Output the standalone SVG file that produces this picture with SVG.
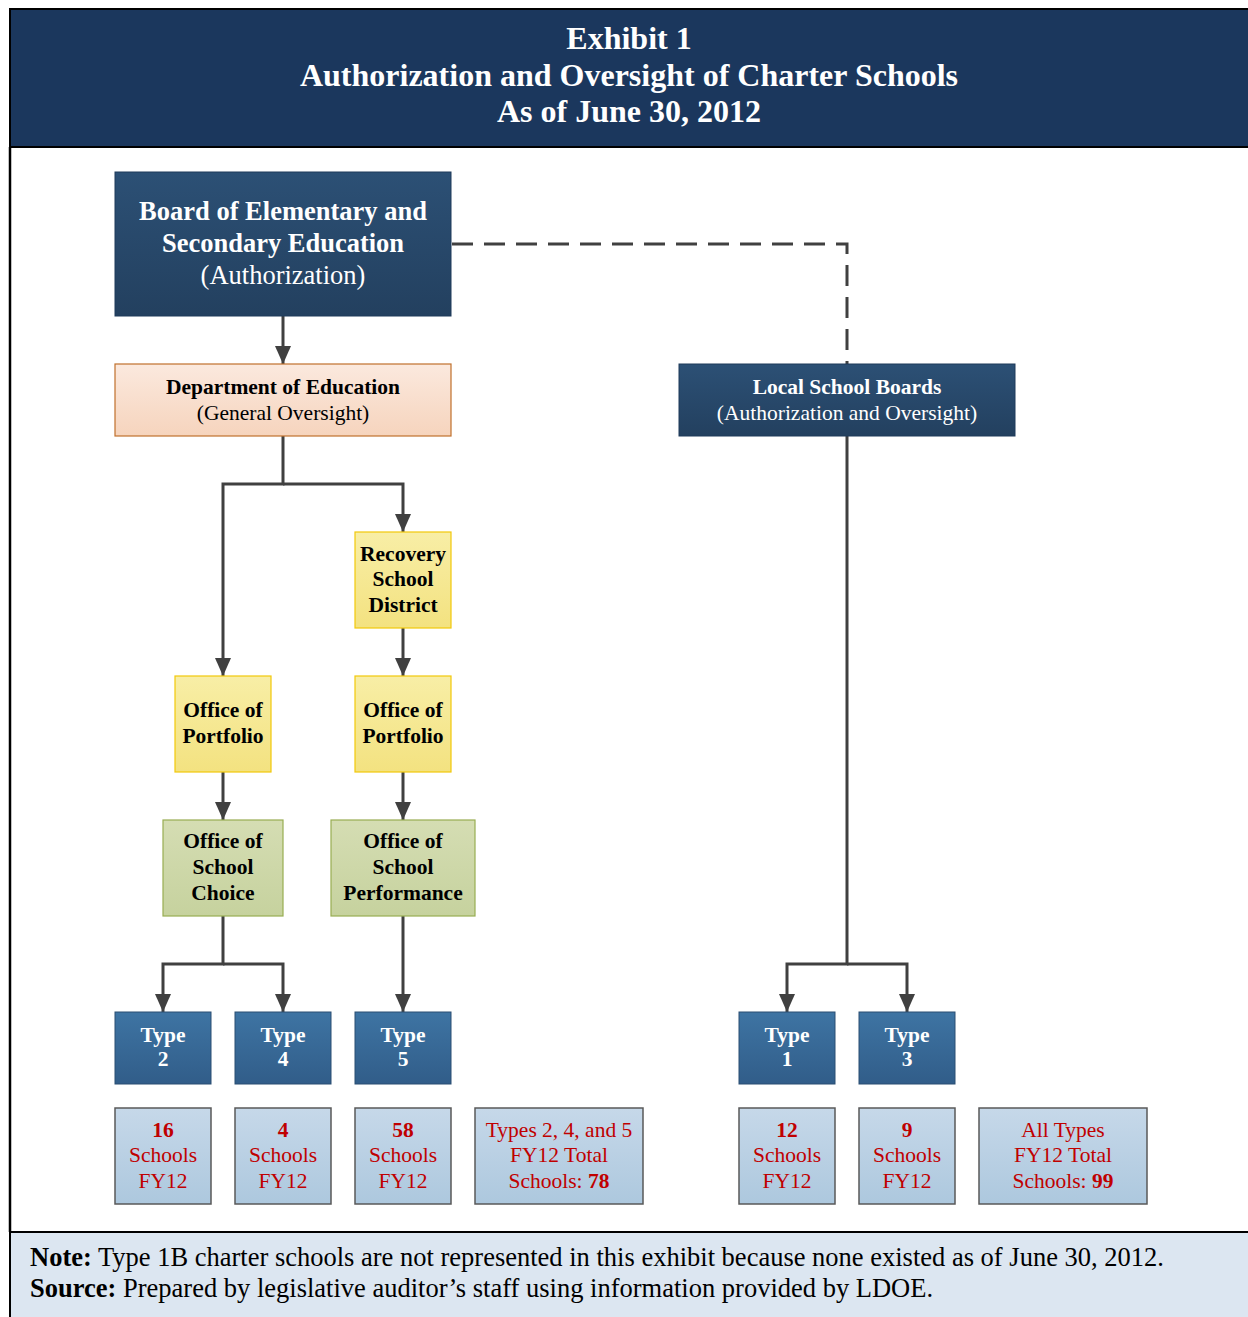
<svg xmlns="http://www.w3.org/2000/svg" width="1248" height="1317" viewBox="0 0 1248 1317">
<defs>
<linearGradient id="gNavy" x1="0" y1="0" x2="0" y2="1"><stop offset="0" stop-color="#2c5075"/><stop offset="1" stop-color="#23405f"/></linearGradient>
<linearGradient id="gPeach" x1="0" y1="0" x2="0" y2="1"><stop offset="0" stop-color="#fbe9de"/><stop offset="1" stop-color="#f6d4bd"/></linearGradient>
<linearGradient id="gYellow" x1="0" y1="0" x2="0" y2="1"><stop offset="0" stop-color="#f8eea6"/><stop offset="1" stop-color="#f3e280"/></linearGradient>
<linearGradient id="gGreen" x1="0" y1="0" x2="0" y2="1"><stop offset="0" stop-color="#d5ddb3"/><stop offset="1" stop-color="#c6d29e"/></linearGradient>
<linearGradient id="gType" x1="0" y1="0" x2="0" y2="1"><stop offset="0" stop-color="#3e74a3"/><stop offset="1" stop-color="#315d89"/></linearGradient>
<linearGradient id="gCount" x1="0" y1="0" x2="0" y2="1"><stop offset="0" stop-color="#c6d8e9"/><stop offset="1" stop-color="#adc8de"/></linearGradient>
<marker id="arr" viewBox="0 0 18 16" refX="18" refY="8" markerWidth="18" markerHeight="16" markerUnits="userSpaceOnUse" orient="auto"><path d="M0,0 L18,8 L0,16 z" fill="#404040"/></marker>
</defs>
<style>
text{font-family:"Liberation Serif","Times New Roman",serif;text-anchor:middle}
.title{font-size:32px;font-weight:bold;fill:#fff}
.bw{font-weight:bold;fill:#fff}
.w{fill:#fff}
.bk{fill:#000}
.b{font-weight:bold}
.red{fill:#c00000;font-size:21.5px}
.t20{font-size:21.5px}
.conn{fill:none;stroke:#404040;stroke-width:3}
.navy{fill:url(#gNavy);stroke:#1e3a5a;stroke-width:1}
.peach{fill:url(#gPeach);stroke:#c0702c;stroke-width:1.2}
.yellow{fill:url(#gYellow);stroke:#f2c80a;stroke-width:1.2}
.green{fill:url(#gGreen);stroke:#98ad52;stroke-width:1.2}
.type{fill:url(#gType);stroke:#2a4e72;stroke-width:1}
.count{fill:url(#gCount);stroke:#595959;stroke-width:1.5}
.note{font-size:26.5px;text-anchor:start;fill:#000}
</style>
<rect x="0" y="0" width="1248" height="1317" fill="#fff"/>
<g id="frame">
<rect x="10" y="9" width="1240" height="138" fill="#1b375d" stroke="#000" stroke-width="2"/>
<line x1="10" y1="147" x2="10" y2="1232" stroke="#000" stroke-width="2.5"/>
<rect x="10" y="1232" width="1240" height="90" fill="#dce6f1" stroke="#000" stroke-width="2"/>
</g>
<g id="title">
<text class="title" x="629" y="49">Exhibit 1</text>
<text class="title" x="629" y="86">Authorization and Oversight of Charter Schools</text>
<text class="title" x="629" y="122">As of June 30, 2012</text>
</g>
<g id="connectors">
<path class="conn" d="M283,316 V364" marker-end="url(#arr)"/>
<path class="conn" d="M283,436 V484 H223 V676" marker-end="url(#arr)"/>
<path class="conn" d="M283,484 H403 V532" marker-end="url(#arr)"/>
<path class="conn" d="M403,628 V676" marker-end="url(#arr)"/>
<path class="conn" d="M223,772 V820" marker-end="url(#arr)"/>
<path class="conn" d="M403,772 V820" marker-end="url(#arr)"/>
<path class="conn" d="M223,916 V964 H163 V1012" marker-end="url(#arr)"/>
<path class="conn" d="M223,964 H283 V1012" marker-end="url(#arr)"/>
<path class="conn" d="M403,916 V1012" marker-end="url(#arr)"/>
<path class="conn" d="M847,436 V964 H787 V1012" marker-end="url(#arr)"/>
<path class="conn" d="M847,964 H907 V1012" marker-end="url(#arr)"/>
<path class="conn" d="M452,244 H847 V364" stroke-dasharray="21,11"/>
</g>
<g id="bese">
<rect class="navy" x="115" y="172" width="336" height="144"/>
<text class="bw" x="283" y="220" font-size="26.5">Board of Elementary and</text>
<text class="bw" x="283" y="252" font-size="26.5">Secondary Education</text>
<text class="w" x="283" y="284" font-size="26.5">(Authorization)</text>
</g>
<g id="doe">
<rect class="peach" x="115" y="364" width="336" height="72"/>
<text class="bk b t20" x="283" y="394">Department of Education</text>
<text class="bk t20" x="283" y="420">(General Oversight)</text>
</g>
<g id="lsb">
<rect class="navy" x="679" y="364" width="336" height="72"/>
<text class="bw t20" x="847" y="394">Local School Boards</text>
<text class="w t20" x="847" y="420">(Authorization and Oversight)</text>
</g>
<g id="rsd">
<rect class="yellow" x="355" y="532" width="96" height="96"/>
<text class="bk b t20" x="403" y="561">Recovery</text>
<text class="bk b t20" x="403" y="586">School</text>
<text class="bk b t20" x="403" y="612">District</text>
</g>
<g id="portfolio-left">
<rect class="yellow" x="175" y="676" width="96" height="96"/>
<text class="bk b t20" x="223" y="717">Office of</text>
<text class="bk b t20" x="223" y="743">Portfolio</text>
</g>
<g id="portfolio-right">
<rect class="yellow" x="355" y="676" width="96" height="96"/>
<text class="bk b t20" x="403" y="717">Office of</text>
<text class="bk b t20" x="403" y="743">Portfolio</text>
</g>
<g id="school-choice">
<rect class="green" x="163" y="820" width="120" height="96"/>
<text class="bk b t20" x="223" y="848">Office of</text>
<text class="bk b t20" x="223" y="874">School</text>
<text class="bk b t20" x="223" y="900">Choice</text>
</g>
<g id="school-performance">
<rect class="green" x="331" y="820" width="144" height="96"/>
<text class="bk b t20" x="403" y="848">Office of</text>
<text class="bk b t20" x="403" y="874">School</text>
<text class="bk b t20" x="403" y="900">Performance</text>
</g>
<g id="type2">
<rect class="type" x="115" y="1012" width="96" height="72"/>
<text class="bw t20" x="163" y="1042">Type</text>
<text class="bw t20" x="163" y="1066">2</text>
</g>
<g id="type4">
<rect class="type" x="235" y="1012" width="96" height="72"/>
<text class="bw t20" x="283" y="1042">Type</text>
<text class="bw t20" x="283" y="1066">4</text>
</g>
<g id="type5">
<rect class="type" x="355" y="1012" width="96" height="72"/>
<text class="bw t20" x="403" y="1042">Type</text>
<text class="bw t20" x="403" y="1066">5</text>
</g>
<g id="type1">
<rect class="type" x="739" y="1012" width="96" height="72"/>
<text class="bw t20" x="787" y="1042">Type</text>
<text class="bw t20" x="787" y="1066">1</text>
</g>
<g id="type3">
<rect class="type" x="859" y="1012" width="96" height="72"/>
<text class="bw t20" x="907" y="1042">Type</text>
<text class="bw t20" x="907" y="1066">3</text>
</g>
<g id="count2">
<rect class="count" x="115" y="1108" width="96" height="96"/>
<text class="red b" x="163" y="1137">16</text>
<text class="red" x="163" y="1162">Schools</text>
<text class="red" x="163" y="1188">FY12</text>
</g>
<g id="count4">
<rect class="count" x="235" y="1108" width="96" height="96"/>
<text class="red b" x="283" y="1137">4</text>
<text class="red" x="283" y="1162">Schools</text>
<text class="red" x="283" y="1188">FY12</text>
</g>
<g id="count5">
<rect class="count" x="355" y="1108" width="96" height="96"/>
<text class="red b" x="403" y="1137">58</text>
<text class="red" x="403" y="1162">Schools</text>
<text class="red" x="403" y="1188">FY12</text>
</g>
<g id="total245">
<rect class="count" x="475" y="1108" width="168" height="96"/>
<text class="red" x="559" y="1137">Types 2, 4, and 5</text>
<text class="red" x="559" y="1162">FY12 Total</text>
<text class="red" x="559" y="1188">Schools: <tspan font-weight="bold">78</tspan></text>
</g>
<g id="count1">
<rect class="count" x="739" y="1108" width="96" height="96"/>
<text class="red b" x="787" y="1137">12</text>
<text class="red" x="787" y="1162">Schools</text>
<text class="red" x="787" y="1188">FY12</text>
</g>
<g id="count3">
<rect class="count" x="859" y="1108" width="96" height="96"/>
<text class="red b" x="907" y="1137">9</text>
<text class="red" x="907" y="1162">Schools</text>
<text class="red" x="907" y="1188">FY12</text>
</g>
<g id="total-all">
<rect class="count" x="979" y="1108" width="168" height="96"/>
<text class="red" x="1063" y="1137">All Types</text>
<text class="red" x="1063" y="1162">FY12 Total</text>
<text class="red" x="1063" y="1188">Schools: <tspan font-weight="bold">99</tspan></text>
</g>
<g id="footnote">
<text class="note" x="30" y="1266"><tspan font-weight="bold">Note:</tspan> Type 1B charter schools are not represented in this exhibit because none existed as of June 30, 2012.</text>
<text class="note" x="30" y="1297"><tspan font-weight="bold">Source:</tspan> Prepared by legislative auditor’s staff using information provided by LDOE.</text>
</g>
</svg>
